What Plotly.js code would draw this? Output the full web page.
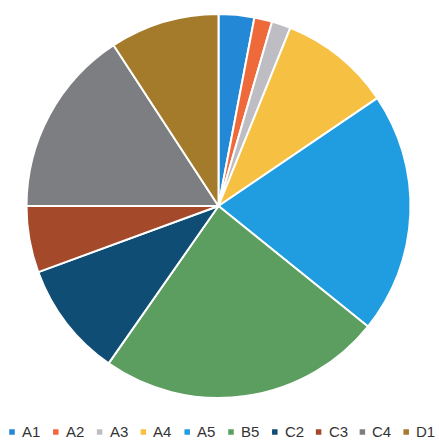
<!DOCTYPE html>
<html>
<head>
<meta charset="utf-8">
<script src="https://cdn.plot.ly/plotly-3.0.1.min.js"></script>
<style>
html,body{margin:0;padding:0;background:#fff;overflow:hidden;}
#chart{width:439px;height:441px;}
</style>
</head>
<body>
<div id="chart"></div>
<script>
const labels = ["A1","A2","A3","A4","A5","B5","C2","C3","C4","D1"];
const values = [3.0, 1.5, 1.6, 9.4, 20.3, 23.9, 9.7, 5.6, 15.8, 9.2];
const colors = ["#2389d6","#ef6a3a","#bdbdc3","#f6c143","#1f9de0","#5b9e5f","#0f4d74","#a4492a","#7c7e81","#a47b2b"];

const W = 439, H = 441;
const cx = 218.5, cy = 206, R = 192;

const trace = {
  type: "pie",
  labels: labels,
  values: values,
  sort: false,
  direction: "clockwise",
  rotation: 0,
  textinfo: "none",
  hoverinfo: "label+percent",
  showlegend: false,
  marker: { colors: colors, line: { color: "#ffffff", width: 2 } },
  domain: { x: [(cx - R) / W, (cx + R) / W], y: [(H - cy - R) / H, (H - cy + R) / H] }
};

const shapes = [];
const annotations = [];
const legendStart = 12, legendStep = 43.8, legendY = 431, sq = 5.5;
labels.forEach((lab, i) => {
  const mx = legendStart + i * legendStep;
  shapes.push({
    type: "rect", xref: "paper", yref: "paper",
    x0: (mx - sq / 2) / W, x1: (mx + sq / 2) / W,
    y0: (H - legendY - 1 - sq / 2) / H, y1: (H - legendY - 1 + sq / 2) / H,
    fillcolor: colors[i], line: { width: 0 }
  });
  annotations.push({
    text: lab, xref: "paper", yref: "paper",
    x: (mx + 8) / W, y: (H - legendY) / H,
    xanchor: "left", yanchor: "middle", showarrow: false,
    font: { family: "Liberation Sans, Arial, sans-serif", size: 15, color: "#333333" }
  });
});

const layout = {
  width: W, height: H,
  margin: { l: 0, r: 0, t: 0, b: 0 },
  paper_bgcolor: "#ffffff",
  showlegend: false,
  shapes: shapes,
  annotations: annotations
};

Plotly.newPlot("chart", [trace], layout, { displayModeBar: false, staticPlot: true });
</script>
</body>
</html>
